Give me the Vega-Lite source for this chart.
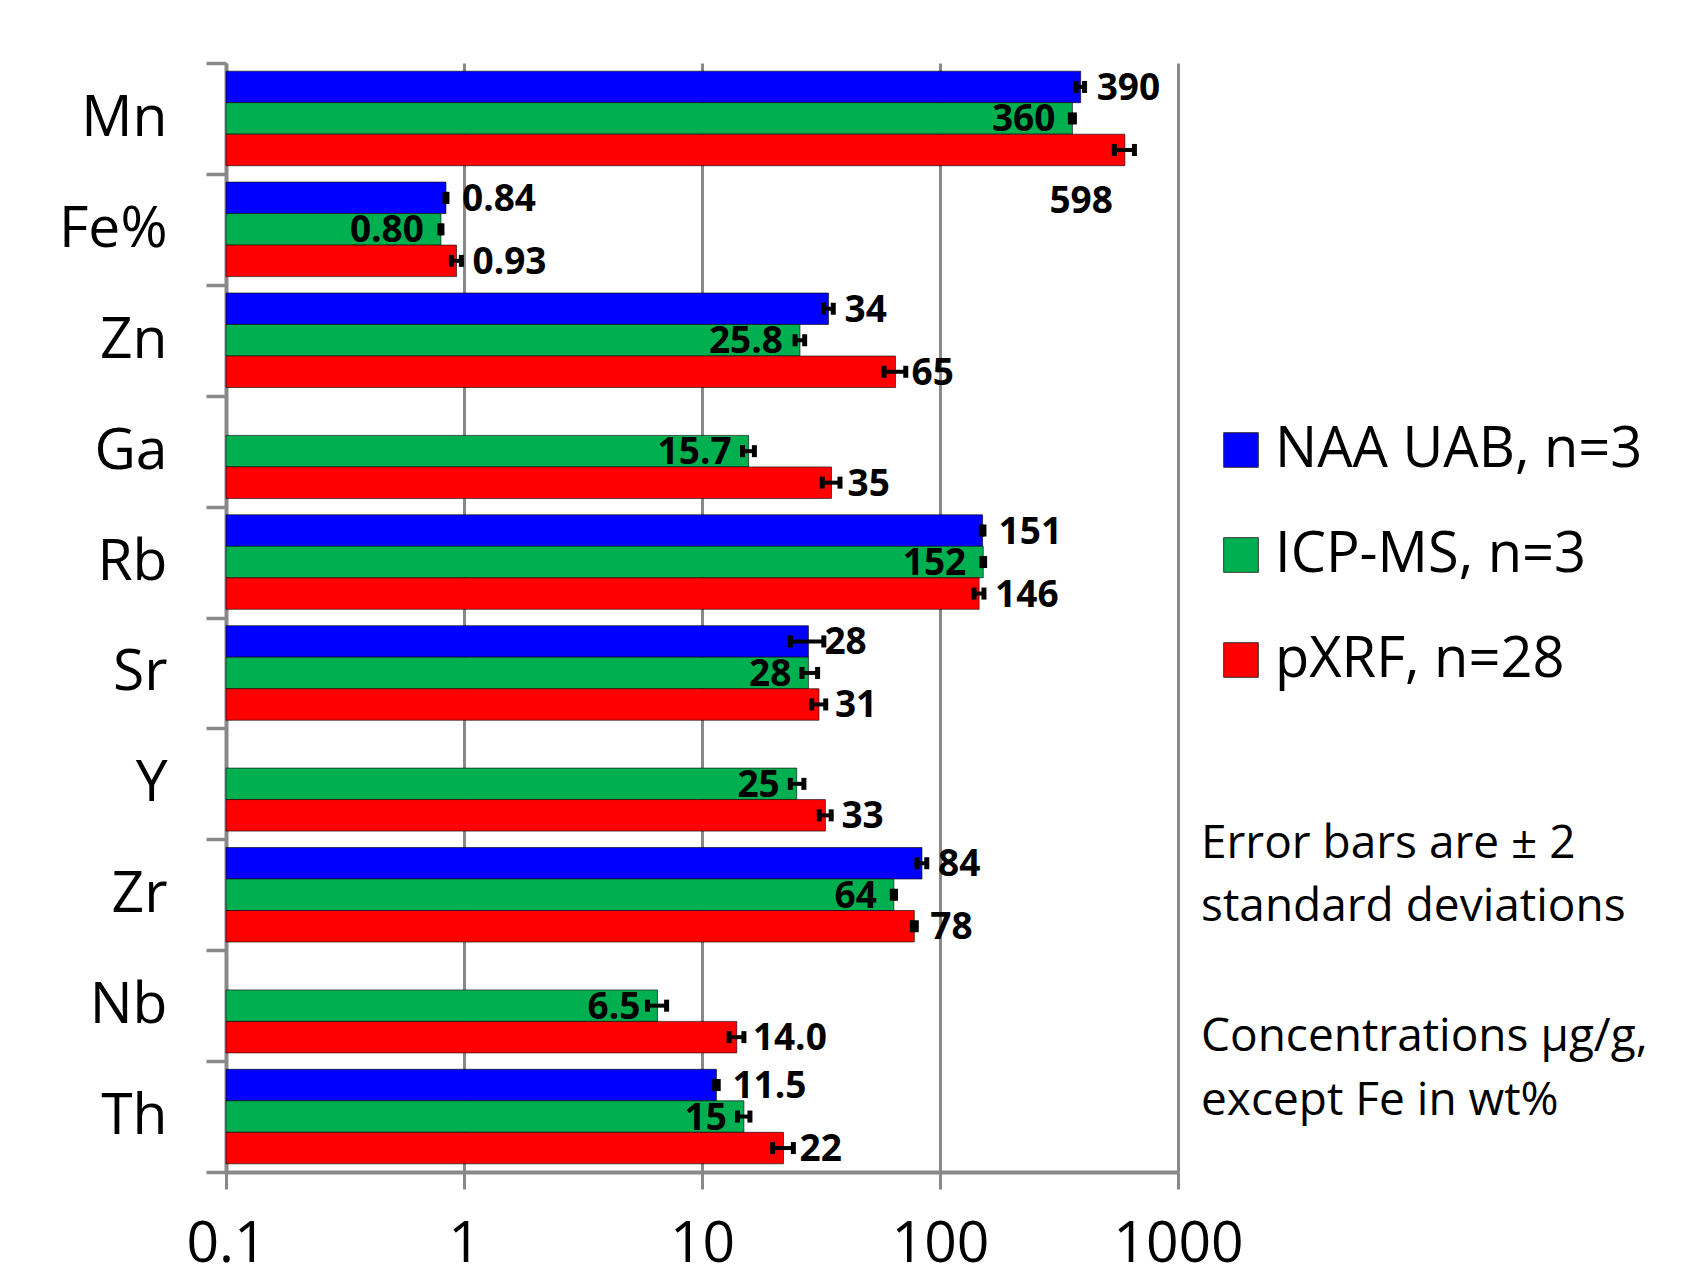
{
  "$schema": "https://vega.github.io/schema/vega-lite/v6.json",
  "width": 952,
  "height": 1109,
  "autosize": {"type": "none"},
  "padding": {"left": 226, "top": 63, "right": 528, "bottom": 104},
  "background": "white",
  "config": {"view": {"stroke": null}, "font": "Open Sans"},
  "title": {
    "text": ["Error bars are ± 2", "standard deviations"],
    "subtitle": ["Concentrations µg/g,", "except Fe in wt%"],
    "orient": "top",
    "anchor": "start",
    "frame": "group",
    "align": "left",
    "baseline": "top",
    "offset": 0,
    "dx": 975,
    "dy": 1091,
    "fontSize": 46,
    "fontWeight": "normal",
    "font": "Open Sans",
    "color": "black",
    "lineHeight": 63.75,
    "subtitleFontSize": 46,
    "subtitleFont": "Open Sans",
    "subtitleColor": "black",
    "subtitleFontWeight": "normal",
    "subtitleLineHeight": 63.75,
    "subtitlePadding": 84
  },
  "data": {
    "values": [
      {"element": "Mn", "method": "NAA UAB, n=3", "value": 390, "label": "390", "lo": 373, "hi": 405},
      {"element": "Mn", "method": "ICP-MS, n=3", "value": 360, "label": "360", "lo": 353, "hi": 367},
      {"element": "Mn", "method": "pXRF, n=28", "value": 598, "label": "598", "lo": 540, "hi": 656},
      {"element": "Fe%", "method": "NAA UAB, n=3", "value": 0.84, "label": "0.84", "lo": 0.832, "hi": 0.848},
      {"element": "Fe%", "method": "ICP-MS, n=3", "value": 0.80, "label": "0.80", "lo": 0.792, "hi": 0.808},
      {"element": "Fe%", "method": "pXRF, n=28", "value": 0.93, "label": "0.93", "lo": 0.885, "hi": 0.975},
      {"element": "Zn", "method": "NAA UAB, n=3", "value": 34, "label": "34", "lo": 32.4, "hi": 35.6},
      {"element": "Zn", "method": "ICP-MS, n=3", "value": 25.8, "label": "25.8", "lo": 24.6, "hi": 27.0},
      {"element": "Zn", "method": "pXRF, n=28", "value": 65, "label": "65", "lo": 58.2, "hi": 71.8},
      {"element": "Ga", "method": "ICP-MS, n=3", "value": 15.7, "label": "15.7", "lo": 14.8, "hi": 16.6},
      {"element": "Ga", "method": "pXRF, n=28", "value": 35, "label": "35", "lo": 32, "hi": 38},
      {"element": "Rb", "method": "NAA UAB, n=3", "value": 151, "label": "151", "lo": 149, "hi": 153},
      {"element": "Rb", "method": "ICP-MS, n=3", "value": 152, "label": "152", "lo": 150, "hi": 154},
      {"element": "Rb", "method": "pXRF, n=28", "value": 146, "label": "146", "lo": 139, "hi": 153},
      {"element": "Sr", "method": "NAA UAB, n=3", "value": 28, "label": "28", "lo": 23.5, "hi": 32.5},
      {"element": "Sr", "method": "ICP-MS, n=3", "value": 28, "label": "28", "lo": 26.3, "hi": 30.6},
      {"element": "Sr", "method": "pXRF, n=28", "value": 31, "label": "31", "lo": 28.9, "hi": 33.1},
      {"element": "Y", "method": "ICP-MS, n=3", "value": 25, "label": "25", "lo": 23.5, "hi": 26.8},
      {"element": "Y", "method": "pXRF, n=28", "value": 33, "label": "33", "lo": 31.1, "hi": 34.9},
      {"element": "Zr", "method": "NAA UAB, n=3", "value": 84, "label": "84", "lo": 80, "hi": 88},
      {"element": "Zr", "method": "ICP-MS, n=3", "value": 64, "label": "64", "lo": 63, "hi": 65},
      {"element": "Zr", "method": "pXRF, n=28", "value": 78, "label": "78", "lo": 76.5, "hi": 79.5},
      {"element": "Nb", "method": "ICP-MS, n=3", "value": 6.5, "label": "6.5", "lo": 5.9, "hi": 7.1},
      {"element": "Nb", "method": "pXRF, n=28", "value": 14.0, "label": "14.0", "lo": 13.0, "hi": 15.0},
      {"element": "Th", "method": "NAA UAB, n=3", "value": 11.5, "label": "11.5", "lo": 11.3, "hi": 11.7},
      {"element": "Th", "method": "ICP-MS, n=3", "value": 15, "label": "15", "lo": 14.1, "hi": 15.9},
      {"element": "Th", "method": "pXRF, n=28", "value": 22, "label": "22", "lo": 19.8, "hi": 24.2}
    ]
  },
  "encoding": {
    "y": {
      "field": "element",
      "type": "nominal",
      "sort": ["Mn", "Fe%", "Zn", "Ga", "Rb", "Sr", "Y", "Zr", "Nb", "Th"],
      "scale": {"paddingInner": 0, "paddingOuter": 0},
      "axis": {
        "title": null,
        "labelFontSize": 57,
        "labelFont": "Open Sans",
        "labelColor": "black",
        "labelPadding": 39,
        "labelLimit": 0,
        "tickSize": 20,
        "tickColor": "#898989",
        "tickWidth": 3.5,
        "tickBand": "extent",
        "domainColor": "#898989",
        "domainWidth": 4,
        "grid": false
      }
    },
    "yOffset": {
      "field": "method",
      "type": "nominal",
      "scale": {"domain": ["NAA UAB, n=3", "ICP-MS, n=3", "pXRF, n=28"], "paddingInner": 0, "paddingOuter": 0.26}
    }
  },
  "layer": [
    {
      "mark": {"type": "bar", "stroke": "#000000", "strokeOpacity": 0.6, "strokeWidth": 1},
      "encoding": {
        "x": {
          "field": "value",
          "type": "quantitative",
          "scale": {"type": "log", "domain": [0.1, 1000]},
          "axis": {
            "title": null,
            "values": [0.1, 1, 10, 100, 1000],
            "format": "~g",
            "labelFontSize": 57,
            "labelFont": "Open Sans",
            "labelColor": "black",
            "labelPadding": 27,
            "labelFlush": false,
            "labelOverlap": false,
            "tickSize": 17,
            "tickColor": "#898989",
            "tickWidth": 3,
            "grid": true,
            "gridColor": "#898989",
            "gridWidth": 3,
            "gridOpacity": 1,
            "domainColor": "#898989",
            "domainWidth": 4
          }
        },
        "x2": {"datum": 0.1},
        "color": {
          "field": "method",
          "type": "nominal",
          "scale": {"domain": ["NAA UAB, n=3", "ICP-MS, n=3", "pXRF, n=28"], "range": ["#0000FF", "#00B050", "#FF0000"]},
          "legend": {
            "title": null,
            "orient": "none",
            "legendX": 987,
            "legendY": 359,
            "symbolType": "square",
            "symbolSize": 1200,
            "symbolStrokeColor": "#333333",
            "symbolStrokeWidth": 1,
            "symbolOpacity": 1,
            "labelFontSize": 56,
            "labelFont": "Open Sans",
            "labelColor": "black",
            "labelOffset": 6,
            "labelLimit": 0,
            "rowPadding": 49
          }
        }
      }
    },
    {
      "mark": {"type": "rule", "color": "black", "strokeWidth": 4},
      "encoding": {
        "x": {"field": "lo", "type": "quantitative"},
        "x2": {"field": "hi"}
      }
    },
    {
      "mark": {"type": "tick", "color": "black", "thickness": 5, "size": 12, "opacity": 1},
      "encoding": {"x": {"field": "lo", "type": "quantitative"}}
    },
    {
      "mark": {"type": "tick", "color": "black", "thickness": 5, "size": 12, "opacity": 1},
      "encoding": {"x": {"field": "hi", "type": "quantitative"}}
    },
    {
      "transform": [{"filter": "datum.method == 'ICP-MS, n=3'"}],
      "mark": {"type": "text", "align": "right", "baseline": "middle", "dx": -17, "dy": 2, "fontSize": 37, "fontWeight": "bold", "font": "Open Sans", "color": "black"},
      "encoding": {"x": {"field": "value", "type": "quantitative"}, "text": {"field": "label"}}
    },
    {
      "transform": [{"filter": "datum.method != 'ICP-MS, n=3' && !(datum.element == 'Mn' && datum.method == 'pXRF, n=28')"}],
      "mark": {"type": "text", "align": "left", "baseline": "middle", "dx": 16, "dy": 2, "fontSize": 37, "fontWeight": "bold", "font": "Open Sans", "color": "black"},
      "encoding": {"x": {"field": "value", "type": "quantitative"}, "text": {"field": "label"}}
    },
    {
      "transform": [{"filter": "datum.element == 'Mn' && datum.method == 'pXRF, n=28'"}],
      "mark": {"type": "text", "align": "right", "baseline": "middle", "dx": -12, "dy": 52, "fontSize": 37, "fontWeight": "bold", "font": "Open Sans", "color": "black"},
      "encoding": {"x": {"field": "value", "type": "quantitative"}, "text": {"field": "label"}}
    }
  ]
}
